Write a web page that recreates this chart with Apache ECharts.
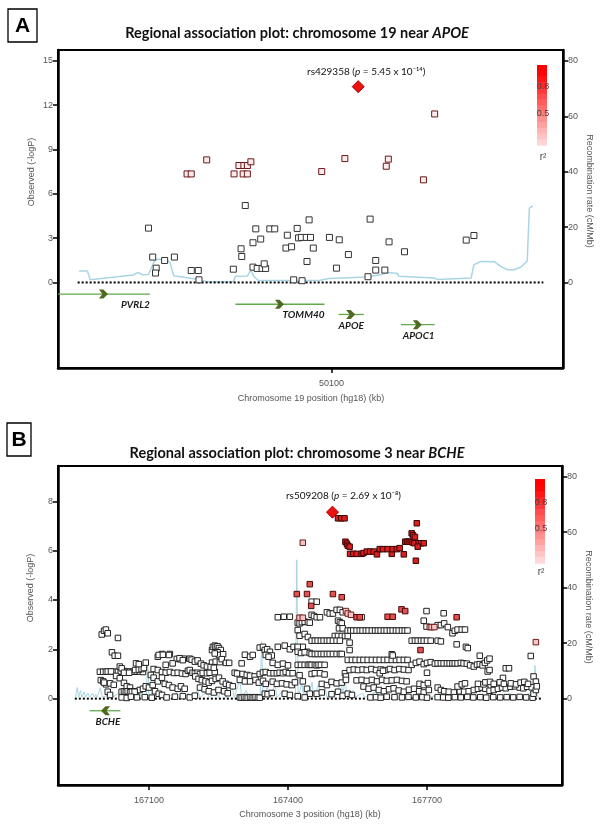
<!DOCTYPE html>
<html>
<head>
<meta charset="utf-8">
<script src="https://cdn.jsdelivr.net/npm/echarts@6/dist/echarts.min.js"></script>
<style>
html, body { margin: 0; padding: 0; background: #fff; }
#chart { width: 602px; height: 826px; }
</style>
</head>
<body>
<div id="chart"></div>
<script>
// ---------- panel A : chromosome 19 near APOE ----------
var aRangeKb = [50061, 50133];
var aPosTicks = [50100];
var aLogPTicks = [0, 3, 6, 9, 12, 15];
var recTicks = [0, 20, 40, 60, 80];
var aDotted = [50063.8, 50130.2];

// [position kb, -logP]
var aSnpLow = [
  [50073.9,3.68],[50074.5,1.72],[50075.0,0.97],[50074.9,0.64],[50076.2,1.49],[50077.6,1.72],
  [50080.0,0.81],[50081.0,0.81],[50081.1,0.18],[50086.0,0.9],[50087.1,2.28],[50087.2,1.76],
  [50087.7,5.21],[50089.2,3.63],[50089.9,2.94],[50088.8,2.69],[50088.8,1.04],[50089.4,0.95],
  [50090.1,0.95],[50090.6,0.95],[50090.4,1.26],[50091.2,3.63],[50091.9,3.63],[50093.7,3.2],
  [50093.5,2.33],[50094.3,2.42],[50095.1,3.66],[50095.3,3.02],[50094.6,0.18],[50095.7,3.05],
  [50096.4,3.05],[50097.0,3.05],[50096.8,4.24],[50097.4,2.33],[50096.5,1.42],[50095.8,0.12],
  [50099.7,3.05],[50101.1,2.89],[50100.7,0.97],[50102.4,1.89],[50105.5,4.29],[50105.2,0.39],
  [50106.3,1.49],[50106.3,0.84],[50107.6,0.84],[50108.2,2.75],[50110.4,2.08],[50119.2,2.87],
  [50120.3,3.18]
];
var aSnpMid = [
  [50079.4,7.35],[50080.0,7.35],[50082.2,8.3],[50086.1,7.35],[50086.8,7.92],[50087.5,7.92],
  [50088.0,7.92],[50088.5,8.17],[50087.4,7.35],[50088.0,7.35],[50098.6,7.51],[50101.9,8.39],
  [50107.8,7.87],[50108.1,8.35],[50113.1,6.95],[50114.7,11.41]
];
var aLead = [[50103.8, 13.26]];
var aLeadName = 'rs429358';
var aLeadP = '5.45 x 10\u207B\u00B9\u2074';

// [position kb, cM/Mb]
var aRecomb = [
  [50064.0,4.1],[50065.2,4.1],[50065.6,1.0],[50071.7,2.7],[50072.4,3.6],[50073.1,2.8],
  [50073.9,2.9],[50074.6,7.1],[50075.1,8.4],[50076.5,8.3],[50077.0,7.0],[50077.5,2.4],
  [50079.4,1.7],[50081.3,1.0],[50082.2,0.3],[50086.0,0.3],[50086.3,2.2],[50088.0,2.3],
  [50088.5,4.6],[50088.9,2.2],[50089.6,0.7],[50095.6,0.7],[50098.4,0.8],[50099.6,1.4],
  [50105.1,2.0],[50107.0,2.8],[50108.0,3.6],[50109.4,3.2],[50109.6,2.2],[50114.6,1.6],
  [50115.1,1.1],[50119.9,1.6],[50120.3,6.4],[50121.3,7.6],[50123.2,7.5],[50124.1,5.8],
  [50125.1,4.6],[50126.0,4.6],[50127.0,5.6],[50127.9,7.7],[50128.2,26.8],[50128.7,27.7]
];

var aGeneNames = ['PVRL2', 'TOMM40', 'APOE', 'APOC1'];
var aGeneStart = [50050.0, 50086.3, 50101.0, 50109.9];
var aGeneEnd = [50074.1, 50099.0, 50104.6, 50114.7];
var aGeneTrack = [0, 1, 2, 3];
var aGeneStrand = [1, 1, 1, 1];

// ---------- panel B : chromosome 3 near BCHE ----------
var bRangeKb = [166903.6, 167991.4];
var bPosTicks = [167100, 167400, 167700];
var bLogPTicks = [0, 2, 4, 6, 8];
var bDotted = [166940, 167947];

var bSnpLow = [
  [166998,2.6],[167003,2.75],[167007,2.8],[167011,2.65],[167033,2.46],[167020,1.88],[167026,1.74],[167033,1.74],
  [166994,1.09],[167001,1.09],[167007,1.09],[167014,1.09],[167020,1.09],[167026,1.09],[167033,1.09],[167039,1.1],
  [167046,1.12],[167052,1.09],[167059,1.1],[167065,1.09],[167074,1.09],[167080,1.1],[167087,1.08],
  [166996,0.75],[167001,0.7],[167007,0.58],[167016,0.62],[167024,0.56],[167011,0.28],[167016,0.15],
  [167003,0.65],[167011,1.1],[167018,1.1],[167037,1.3],[167041,1.23],[167029,0.92],[167037,0.83],
  [167046,0.64],[167052,0.5],[167059,0.45],[167065,0.3],[167072,0.3],[167080,0.35],[167087,0.4],[167093,0.5],
  [167100,0.45],[167108,0.55],[167041,0.28],[167046,0.3],[167050,0.28],[167054,0.3],[167059,0.26],[167063,0.28],
  [167069,0.28],[167070,1.16],[167078,1.18],[167084,1.2],[167089,1.24],[167046,1.05],[167057,1.05],
  [167041,0.05],[167052,0.03],[167061,0.08],[167074,0.05],[167091,0.06],[167106,0.04],
  [167072,1.43],[167078,1.4],[167093,1.46],
  [167119,1.7],[167128,1.81],[167145,1.81],[167121,1.77],[167130,1.78],[167143,1.77],
  [167160,1.61],[167167,1.6],[167175,1.62],[167136,1.37],
  [167110,1.2],[167119,1.16],[167128,1.08],[167136,1.05],[167145,1.08],[167154,1.04],[167162,1.05],[167171,1.02],
  [167179,1.0],[167184,1.13],[167188,1.16],
  [167104,0.96],[167110,0.85],[167119,0.7],[167128,0.85],[167134,0.6],[167143,0.55],[167151,0.45],[167162,0.4],
  [167169,0.5],[167177,0.4],[167113,0.3],[167121,0.2],[167128,0.15],
  [167151,1.43],[167166,1.64],[167173,1.56],[167188,1.62],[167192,1.58],
  [167194,1.05],[167199,1.02],[167205,1.05],[167210,1.0],[167216,1.04],[167225,1.03],
  [167138,0.05],[167156,0.08],[167173,0.1],[167188,0.05],[167199,0.12],
  [167231,1.05],[167242,1.08],[167236,1.46],[167244,1.5],[167253,1.48],
  [167236,1.97],[167238,2.1],[167242,2.15],[167244,2.1],[167248,2.12],[167251,2.05],[167255,1.97],[167248,1.88],
  [167251,1.77],[167260,1.8],[167242,1.83],[167257,1.6],[167266,1.45],[167273,1.45],
  [167199,1.5],[167205,1.55],[167212,1.42],[167218,1.35],[167225,1.3],[167233,1.28],[167240,1.25],
  [167200,0.9],[167207,0.8],[167214,0.75],[167222,0.7],[167229,0.65],[167236,0.72],[167244,0.8],[167251,0.85],
  [167259,0.7],[167266,0.6],[167273,0.55],[167281,0.5],
  [167210,0.45],[167220,0.38],[167229,0.3],[167240,0.25],[167250,0.35],[167262,0.3],[167270,0.22],
  [167285,1.05],[167290,1.02],
  [167300,1.43],[167307,1.78],[167318,1.7],[167324,1.77],
  [167302,1.0],[167311,0.96],[167318,0.93],[167328,0.9],[167339,1.0],[167346,1.06],[167352,1.08],
  [167296,0.76],[167307,0.7],[167318,0.7],[167330,0.76],[167337,0.65],[167346,0.72],[167352,0.6],
  [167296,0.05],[167300,0.04],[167305,0.06],[167309,0.05],[167313,0.04],[167318,0.06],[167322,0.05],[167326,0.04],
  [167330,0.06],[167335,0.05],[167339,0.04],
  [167339,2.07],[167346,2.1],[167350,1.97],[167355,2.0],[167361,1.9],[167365,1.75],[167352,1.77],[167358,1.7],
  [167378,2.1],[167393,2.15],[167404,2.0],[167412,2.1],[167421,2.05],[167432,2.1],[167441,1.9],
  [167361,1.03],[167369,1.03],[167376,1.03],[167382,1.05],[167389,1.03],[167395,1.08],[167402,1.03],[167410,1.03],
  [167367,1.45],[167378,1.37],[167389,1.42],[167400,1.35],
  [167367,0.69],[167376,0.6],[167387,0.62],[167397,0.58],[167408,0.55],[167415,0.66],
  [167350,0.2],[167356,0.18],[167365,0.23],[167393,0.2],[167404,0.15],
  [167378,3.3],[167391,3.32],[167404,3.32],
  [167421,3.08],[167425,3.05],[167430,3.1],[167436,3.12],[167443,3.1],[167447,3.08],
  [167421,2.78],[167425,2.55],[167436,2.62],[167443,2.5],
  [167421,2.1],[167421,1.9],[167428,1.85],[167436,1.88],[167447,1.85],
  [167421,1.37],[167428,1.37],[167436,1.37],[167443,1.37],[167447,1.37],
  [167425,0.95],[167432,0.7],[167441,0.4],[167447,0.2],[167421,0.1],[167436,0.05],
  [167451,3.93],[167462,3.93],[167451,3.4],[167456,3.35],[167462,3.3],[167469,3.3],
  [167484,3.5],[167490,3.45],[167497,3.45],[167505,3.6],[167512,3.6],[167518,3.5],
  [167508,3.16],[167512,3.1],[167516,3.05],[167510,2.85],[167518,2.85],
  [167501,2.54],[167508,2.54],[167516,2.54],[167523,2.54],[167529,2.54],
  [167451,2.35],[167458,2.35],[167464,2.35],[167471,2.35],[167477,2.35],[167484,2.35],[167490,2.35],[167497,2.35],
  [167505,2.35],[167512,2.35],
  [167451,1.81],[167458,1.81],[167464,1.81],[167471,1.81],[167477,1.81],[167484,1.81],[167490,1.81],[167497,1.81],
  [167505,1.81],[167512,1.81],[167516,1.81],
  [167451,1.37],[167458,1.37],[167462,1.35],[167466,1.37],[167471,1.37],[167479,1.37],
  [167451,1.0],[167458,1.03],[167469,1.03],[167479,0.98],
  [167473,0.6],[167484,0.55],[167494,0.68],[167505,0.62],[167516,0.65],
  [167462,0.2],[167473,0.25],[167494,0.18],[167508,0.28],[167518,0.12],[167529,0.2],[167538,0.15],
  [167523,1.03],[167525,0.9],[167525,0.76],
  [167529,2.76],[167535,2.76],[167541,2.76],[167548,2.76],[167555,2.76],[167561,2.76],[167568,2.76],[167574,2.76],
  [167581,2.76],[167588,2.76],[167594,2.76],[167600,2.76],[167607,2.76],[167613,2.76],[167620,2.76],[167626,2.76],
  [167633,2.76],[167639,2.76],[167646,2.76],[167652,2.76],[167658,2.76],
  [167559,3.3],
  [167529,1.57],[167538,1.57],[167546,1.57],[167555,1.57],[167563,1.57],[167572,1.57],[167581,1.57],[167590,1.57],
  [167598,1.57],[167607,1.57],[167615,1.57],[167624,1.57],[167633,1.57],[167641,1.57],[167650,1.57],[167658,1.57],
  [167533,1.16],[167542,1.18],[167551,1.16],[167561,1.18],[167570,1.16],[167580,1.2],[167590,1.16],[167600,1.18],
  [167611,1.16],[167620,1.2],[167630,1.16],[167640,1.2],[167650,1.18],[167660,1.16],
  [167548,0.74],[167559,0.76],[167570,0.72],[167581,0.76],[167592,0.7],[167603,0.76],[167613,0.72],[167624,0.74],
  [167635,0.76],[167646,0.72],[167656,0.7],
  [167563,0.49],[167574,0.4],[167585,0.45],[167596,0.35],[167607,0.3],[167618,0.38],[167628,0.42],[167639,0.33],
  [167650,0.28],[167661,0.36],[167672,0.4],[167683,0.3],[167693,0.25],[167704,0.35],
  [167578,0.05],[167590,0.06],[167600,0.04],[167613,0.08],[167630,0.06],[167646,0.05],[167660,0.07],[167676,0.05],
  [167690,0.06],[167700,0.04],
  [167533,2.27],[167533,1.97],[167624,1.8],[167626,1.75],[167598,1.03],[167605,1.13],
  [167699,3.55],[167693,3.16],[167699,2.92],
  [167667,2.35],[167674,2.35],[167680,2.35],[167687,2.35],[167693,2.35],[167700,2.35],[167708,2.35],
  [167667,1.37],[167676,1.45],[167684,1.5],[167693,1.4],[167700,1.45],[167708,1.48],[167717,1.42],
  [167700,1.05],[167684,0.6],[167693,0.55],[167702,0.63],
  [167736,3.46],[167723,2.98],[167730,2.98],[167737,3.05],[167745,2.9],
  [167755,2.65],[167760,2.75],[167766,2.8],[167775,2.8],[167782,2.8],
  [167723,2.35],[167730,2.32],[167764,2.2],[167784,2.1],[167788,2.05],
  [167723,1.43],[167730,1.43],[167736,1.43],[167743,1.43],[167749,1.43],[167755,1.43],[167760,1.43],[167766,1.43],
  [167773,1.45],[167779,1.43],[167786,1.42],
  [167793,1.35],[167801,1.3],[167808,1.38],[167814,1.4],[167820,1.35],[167825,1.45],[167830,1.55],[167835,1.62],
  [167814,1.74],[167831,1.1],[167835,1.16],[167870,1.23],[167877,1.23],[167864,0.84],
  [167930,0.9],[167935,0.69],[167924,1.73],
  [167723,0.45],[167730,0.35],[167737,0.3],[167747,0.28],[167758,0.25],[167771,0.3],[167780,0.28],[167790,0.3],
  [167801,0.35],[167810,0.4],[167818,0.45],[167826,0.4],[167835,0.32],[167844,0.35],[167853,0.4],[167862,0.45],
  [167870,0.42],[167880,0.48],[167890,0.5],[167900,0.45],[167908,0.42],[167916,0.48],[167926,0.46],
  [167766,0.49],[167775,0.58],[167782,0.62],
  [167810,0.6],[167822,0.58],[167826,0.66],[167836,0.68],[167844,0.6],[167857,0.66],[167866,0.6],[167881,0.62],
  [167892,0.58],[167902,0.65],[167910,0.68],[167918,0.6],
  [167723,0.06],[167735,0.05],[167746,0.04],[167760,0.06],[167773,0.05],[167787,0.07],[167800,0.05],[167815,0.06],
  [167828,0.04],[167843,0.06],[167858,0.05],[167872,0.06],[167886,0.05],[167900,0.07],[167914,0.05],[167928,0.04],
  [167930,0.2],[167935,0.35],[167937,0.5]
];
var bSnpPink = [
  [167432,6.32],[167425,3.28],[167432,3.28],[167706,2.9],[167710,2.9],[167716,2.9],[167935,2.29],
  [167525,3.55],[167529,3.45],[167536,3.4]
];
var bSnpMid = [
  [167497,4.24],[167516,4.11],[167419,4.24],[167441,4.24],[167447,4.64],[167450,3.76],[167548,3.3],
  [167555,3.3],[167615,3.32],[167626,3.32],[167645,3.62],[167653,3.55],[167764,3.3],[167686,1.97]
];
var bSnpHigh = [
  [167508,7.31],[167515,7.31],[167522,7.31],[167524,6.36],[167527,6.28],[167529,6.2],[167533,6.16],
  [167534,5.87],[167541,5.87],[167548,5.87],[167559,5.87],[167563,5.9],[167570,5.96],[167577,5.96],
  [167585,5.96],[167592,5.85],[167598,6.06],[167605,6.06],[167615,6.06],[167624,5.87],[167626,6.06],
  [167635,6.06],[167641,6.1],[167650,5.85],[167653,6.36],[167657,6.36],[167661,6.36],[167665,6.36],
  [167669,6.33],[167673,6.3],[167682,6.3],[167687,6.3],[167693,6.3],[167667,6.7],[167670,6.62],
  [167674,6.55],[167680,6.16],[167676,5.59],[167678,7.11]
];
var bLead = [[167496, 7.56]];
var bLeadName = 'rs509208';
var bLeadP = '2.69 x 10\u207B\u2078';

var bRecomb = [
  [166941,0.5],[166945,4],[166948,0.5],[166952,3],[166955,0.5],[166960,2.5],[166963,0.5],[166968,2],
  [166972,0.5],[166978,2],[166982,0.5],[166985,1.5],[166988,0.5],[166995,4],[166999,0.5],[167015,1.5],
  [167020,0.4],[167035,2],[167040,0.4],[167060,1.5],[167065,0.4],[167080,2.5],[167085,0.4],[167094,0.4],
  [167097,13.3],[167100,0.4],[167112,4],[167116,0.4],[167130,2],[167134,0.4],[167150,1.5],[167155,0.4],
  [167168,5],[167172,0.4],[167185,2],[167190,0.4],[167205,3],[167210,0.4],[167225,2.5],[167230,0.4],
  [167245,3],[167250,0.4],[167262,7],[167266,0.4],[167280,4],[167284,0.4],[167296,7],[167300,0.4],
  [167310,3],[167315,0.4],[167340,0.4],[167343,20.5],[167346,0.4],[167356,4],[167360,0.4],[167372,5],
  [167376,0.4],[167390,3],[167395,0.4],[167405,2],[167410,0.4],[167416,0.5],[167419,50],[167422,0.5],
  [167430,5.5],[167434,0.5],[167440,4],[167444,0.5],[167452,6],[167456,0.5],[167466,5],[167470,0.5],
  [167480,4],[167484,0.5],[167496,3],[167500,0.5],[167515,6],[167519,0.5],[167523,9],[167527,0.5],
  [167540,3],[167545,0.5],[167560,2],[167565,0.5],[167590,2.5],[167595,0.5],[167620,3],[167625,0.5],
  [167640,3.5],[167645,0.5],[167660,2],[167665,0.5],[167700,1.5],[167705,0.5],[167740,2],[167745,0.5],
  [167780,1.5],[167785,0.5],[167800,2.5],[167805,0.5],[167840,2],[167845,0.5],[167860,1.5],[167865,0.5],
  [167880,2],[167885,0.5],[167900,1.5],[167905,0.5],[167930,3],[167933,12],[167936,3],[167940,0.5]
];

var bGeneNames = ['BCHE'];
var bGeneStart = [166971.8];
var bGeneEnd = [167038.3];
var bGeneTrack = [0];
var bGeneStrand = [-1];

// ---------- helpers ----------
var FONT = 'Liberation Sans';
var TITLE_FONT = 'Lato';

function r2Color(r) {
  r = Math.max(0, Math.min(1, r));
  var g = Math.round(255 * (1 - r));
  return 'rgb(255,' + g + ',' + g + ')';
}

function xAxisCfg(grid, range, ticks) {
  return {
    type: 'value', gridIndex: grid, min: range[0], max: range[1],
    axisLine: { show: true, onZero: false, lineStyle: { color: '#000', width: 2.5 } },
    axisTick: { show: true, customValues: ticks, length: 5, lineStyle: { color: '#000', width: 1.5 } },
    axisLabel: { customValues: ticks, formatter: function (v) { return String(v); },
      color: '#555', fontSize: 9, fontFamily: FONT, margin: 11 },
    splitLine: { show: false }
  };
}

function yAxisCfg(grid, pos, min, max, ticks) {
  return {
    type: 'value', gridIndex: grid, position: pos, min: min, max: max,
    axisLine: { show: true, onZero: false, lineStyle: { color: '#000', width: 2.5 } },
    axisTick: { show: true, customValues: ticks, length: 5, lineStyle: { color: '#000', width: 1.5 } },
    axisLabel: { customValues: ticks, color: '#555', fontSize: 9, fontFamily: FONT, margin: 5 },
    splitLine: { show: false }
  };
}

function snpSeries(data, xi, yi, size, fill, stroke, z) {
  return {
    type: 'scatter', xAxisIndex: xi, yAxisIndex: yi, data: data, symbol: 'rect', symbolSize: size,
    silent: true, z: z, animation: false,
    itemStyle: { color: fill, borderColor: stroke, borderWidth: 1, opacity: 1 }
  };
}

function leadSeries(data, xi, yi, name, p, offset, dist) {
  return {
    type: 'scatter', xAxisIndex: xi, yAxisIndex: yi, data: data, symbol: 'diamond', symbolSize: 12,
    silent: true, z: 10,
    itemStyle: { color: '#ee1111', borderColor: '#a00000', borderWidth: 1, opacity: 1 },
    label: {
      show: true, position: 'top', distance: dist, offset: offset,
      formatter: '{n|' + name + ' (}{i|p}{n| = ' + p + ')}',
      rich: {
        n: { fontFamily: TITLE_FONT, fontSize: 10, color: '#111' },
        i: { fontFamily: TITLE_FONT, fontSize: 10, fontStyle: 'italic', color: '#111' }
      }
    }
  };
}

function recombSeries(data, xi, yi, width) {
  return {
    type: 'line', xAxisIndex: xi, yAxisIndex: yi, data: data, symbol: 'none', silent: true, z: 1,
    lineStyle: { color: '#a9d5e5', width: width }
  };
}

function dottedSeries(range, xi, yi) {
  return {
    type: 'line', xAxisIndex: xi, yAxisIndex: yi, data: [[range[0], 0], [range[1], 0]],
    symbol: 'none', silent: true, z: 2,
    lineStyle: { color: '#000', width: 2, type: [2, 2] }
  };
}

function geneSeries(xi, yi, names, starts, ends, tracks, strands, track0, trackStep) {
  return {
    type: 'custom', xAxisIndex: xi, yAxisIndex: yi, silent: true, clip: true, z: 3,
    data: starts.map(function (s, i) { return [s, ends[i], tracks[i], strands[i]]; }),
    encode: { x: [0, 1] },
    renderItem: function (params, api) {
      var cs = params.coordSys;
      var s = api.coord([api.value(0), 0])[0];
      var e = api.coord([api.value(1), 0])[0];
      var y = api.coord([api.value(0), track0 + api.value(2) * trackStep])[1];
      var x0 = Math.max(s, cs.x), x1 = Math.min(e, cs.x + cs.width);
      var mid = (x0 + x1) / 2, d = api.value(3);
      var pts = [[-5, -4.5], [-0.5, -4.5], [4, 0], [-0.5, 4.5], [-5, 4.5], [-1.5, 0]].map(function (p) {
        return [mid + d * p[0], y + p[1]];
      });
      return {
        type: 'group', children: [
          { type: 'line', shape: { x1: x0, y1: y, x2: x1, y2: y }, style: { stroke: '#62a84c', lineWidth: 1.3 } },
          { type: 'polygon', shape: { points: pts }, style: { fill: '#4e6a20' } },
          { type: 'text', style: { text: names[params.dataIndex], x: x1, y: y + 11, align: 'right',
            verticalAlign: 'middle', font: 'italic bold 10px ' + TITLE_FONT, fill: '#1a1a1a' } }
        ]
      };
    }
  };
}

function legendBar(x, y, w, h, lab8, lab5, labR) {
  var n = 14, els = [];
  for (var k = 0; k < n; k++) {
    els.push({ type: 'rect', shape: { x: x, y: y + k * h / n, width: w, height: h / n + 0.6 },
      style: { fill: r2Color(1.08 - 0.95 * (k + 0.5) / n) }, silent: true });
  }
  els.push({ type: 'text', style: { text: '0.8', x: x + w / 2 + 1, y: lab8, align: 'center', verticalAlign: 'middle',
    font: '9px ' + FONT, fill: '#444' } });
  els.push({ type: 'text', style: { text: '0.5', x: x + w / 2 + 1, y: lab5, align: 'center', verticalAlign: 'middle',
    font: '9px ' + FONT, fill: '#444' } });
  els.push({ type: 'text', style: { text: 'r\u00B2', x: x + w / 2 + 1, y: labR, align: 'center', verticalAlign: 'middle',
    font: '10px ' + FONT, fill: '#444' } });
  return els;
}

function vText(text, x, y, rot) {
  return { type: 'text', x: x, y: y, rotation: rot, style: { text: text, x: 0, y: 0, align: 'center',
    verticalAlign: 'middle', font: '9px ' + FONT, fill: '#555' } };
}
function hText(text, x, y) {
  return { type: 'text', style: { text: text, x: x, y: y, align: 'center', verticalAlign: 'middle',
    font: '9px ' + FONT, fill: '#555' } };
}
function titleText(plain, gene, x, y) {
  return { type: 'text', style: { text: '{b|' + plain + '}{bi|' + gene + '}', x: x, y: y, align: 'center',
    verticalAlign: 'middle', rich: {
      b: { fontFamily: TITLE_FONT, fontWeight: 'bold', fontSize: 14.5, fill: '#111' },
      bi: { fontFamily: TITLE_FONT, fontWeight: 'bold', fontStyle: 'italic', fontSize: 14.5, fill: '#111' }
    } } };
}
function panelTag(letter, x, y, w, h) {
  return [
    { type: 'rect', shape: { x: x, y: y, width: w, height: h }, style: { fill: '#fff', stroke: '#000', lineWidth: 1.3 } },
    { type: 'text', style: { text: letter, x: x + w / 2, y: y + h / 2 + 1, align: 'center', verticalAlign: 'middle',
      font: 'bold 21px ' + FONT, fill: '#000' } }
  ];
}

// ---------- chart ----------
var myChart = echarts.init(document.getElementById('chart'));

var graphics = []
  .concat(panelTag('A', 8, 9, 29, 33))
  .concat(panelTag('B', 7, 423, 24, 33))
  .concat([
    titleText('Regional association plot: chromosome 19 near ', 'APOE', 297, 33),
    titleText('Regional association plot: chromosome 3 near ', 'BCHE', 297, 453),
    vText('Observed (-logP)', 32, 172, Math.PI / 2),
    vText('Recombination rate (cM/Mb)', 589, 191, -Math.PI / 2),
    hText('Chromosome 19 position (hg18) (kb)', 311, 399),
    vText('Observed (-logP)', 31, 588, Math.PI / 2),
    vText('Recombination rate (cM/Mb)', 588, 607, -Math.PI / 2),
    hText('Chromosome 3 position (hg18) (kb)', 310, 815)
  ])
  .concat(legendBar(537, 65, 10, 80, 86.7, 113.3, 157))
  .concat(legendBar(535, 479, 10, 84, 502.7, 528.3, 572));

var option = {
  animation: false,
  backgroundColor: '#fff',
  grid: [
    { left: 58, top: 50, width: 505, height: 318, show: true, borderColor: '#000', borderWidth: 2 },
    { left: 58, top: 466, width: 504, height: 319, show: true, borderColor: '#000', borderWidth: 2 }
  ],
  xAxis: [
    xAxisCfg(0, aRangeKb, aPosTicks),
    xAxisCfg(1, bRangeKb, bPosTicks)
  ],
  yAxis: [
    yAxisCfg(0, 'left', -5.79, 15.74, aLogPTicks),
    yAxisCfg(0, 'right', -30.9, 83.97, recTicks),
    yAxisCfg(1, 'left', -3.50, 9.43, bLogPTicks),
    yAxisCfg(1, 'right', -31.07, 83.78, recTicks)
  ],
  graphic: { elements: graphics },
  series: [
    recombSeries(aRecomb, 0, 1, 1.5),
    dottedSeries(aDotted, 0, 0),
    geneSeries(0, 0, aGeneNames, aGeneStart, aGeneEnd, aGeneTrack, aGeneStrand, -0.785, -0.69),
    snpSeries(aSnpLow, 0, 0, 6, '#ffffff', '#333333', 4),
    snpSeries(aSnpMid, 0, 0, 6, '#fdeaea', '#6b1a1a', 5),
    leadSeries(aLead, 0, 0, aLeadName, aLeadP, [8, 0], 3),

    recombSeries(bRecomb, 1, 3, 1),
    dottedSeries(bDotted, 1, 2),
    geneSeries(1, 2, bGeneNames, bGeneStart, bGeneEnd, bGeneTrack, bGeneStrand, -0.49, -0.7),
    snpSeries(bSnpLow, 1, 2, 5.5, '#ffffff', '#222222', 4),
    snpSeries(bSnpPink, 1, 2, 5.5, '#f6c6c6', '#6b1a1a', 5),
    snpSeries(bSnpMid, 1, 2, 5.5, '#e25050', '#4a0a0a', 6),
    snpSeries(bSnpHigh, 1, 2, 5.5, '#d81e1e', '#3a0505', 7),
    leadSeries(bLead, 1, 2, bLeadName, bLeadP, [11, 0], 5)
  ]
};

myChart.setOption(option);
</script>
</body>
</html>
